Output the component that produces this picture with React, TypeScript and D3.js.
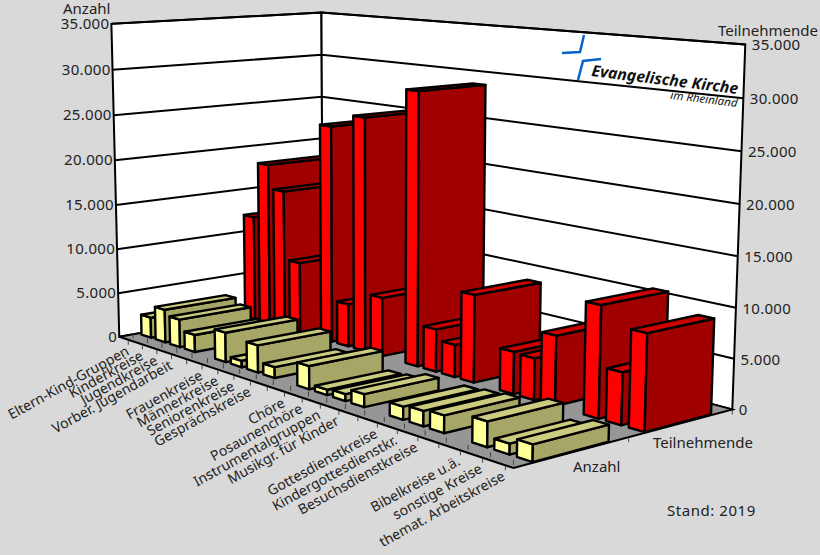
import React from "react";
import * as d3 from "d3";

const slots: (string | null)[] = [
  "Eltern-Kind-Gruppen", "Kinderkreise", "Jugendkreise", "Vorber. Jugendarbeit", null,
  "Frauenkreise", "Männerkreise", "Seniorenkreise", "Gesprächskreise", null,
  "Chöre", "Posaunenchöre", "Instrumentalgruppen", "Musikgr. für Kinder", null,
  "Gottesdienstkreise", "Kindergottesdienstkr.", "Besuchsdienstkreise", null,
  "Bibelkreise u.ä.", "sonstige Kreise", "themat. Arbeitskreise",
];
const anzahl = [2300, 3700, 3100, 1900, 0, 3200, 700, 2900, 1150, 0, 2400, 550, 700, 1300, 0, 1300, 1500, 1700, 0, 2400, 1000, 1600];
const teilnehmende = [12100, 18500, 15800, 8000, 0, 24000, 4700, 25500, 6400, 0, 29000, 4500, 3400, 9100, 0, 4300, 4200, 7000, 0, 11000, 5100, 9350];
const valueTicks = [0, 5000, 10000, 15000, 20000, 25000, 30000, 35000];
const tickLabels = ["0", "5.000", "10.000", "15.000", "20.000", "25.000", "30.000", "35.000"];

// camera fit: box corners (x,y,z) -> screen
const frame: [number, number, number, number, number][] = [
  [0, 0, 0, 120, 335],
  [1, 0, 0, 513, 470],
  [0, 1, 0, 322, 303],
  [1, 1, 0, 733, 407],
  [0, 0, 1, 111, 24],
  [0, 1, 1, 322, 12],
  [1, 1, 1, 745, 45],
];

function fitCamera(pts: typeof frame) {
  const rows: number[][] = [];
  const rhs: number[] = [];
  for (const [x, y, z, u, v] of pts) {
    rows.push([x, y, z, 1, 0, 0, 0, 0, -u * x, -u * y, -u * z]);
    rhs.push(u);
    rows.push([0, 0, 0, 0, x, y, z, 1, -v * x, -v * y, -v * z]);
    rhs.push(v);
  }
  const n = 11;
  const m = d3.range(n).map((i) => [
    ...d3.range(n).map((j) => d3.sum(rows, (r) => r[i] * r[j])),
    d3.sum(rows, (r, k) => r[i] * rhs[k]),
  ]);
  for (let c = 0; c < n; c++) {
    let p = c;
    for (let r = c + 1; r < n; r++) if (Math.abs(m[r][c]) > Math.abs(m[p][c])) p = r;
    [m[c], m[p]] = [m[p], m[c]];
    for (let r = 0; r < n; r++) {
      if (r === c) continue;
      const f = m[r][c] / m[c][c];
      for (let k = c; k <= n; k++) m[r][k] -= f * m[c][k];
    }
  }
  return m.map((r, i) => r[n] / r[i]);
}
const P = fitCamera(frame);
const project = (x: number, y: number, z: number): [number, number] => {
  const w = P[8] * x + P[9] * y + P[10] * z + 1;
  return [(P[0] * x + P[1] * y + P[2] * z + P[3]) / w, (P[4] * x + P[5] * y + P[6] * z + P[7]) / w];
};

const sx = d3.scaleLinear().domain([0, slots.length]).range([0, 1]);
const sz = d3.scaleLinear().domain([0, 35000]).range([0, 1]);
const line = d3.line<[number, number, number]>().x((p) => project(...p)[0]).y((p) => project(...p)[1]);
const closed = (pts: [number, number, number][]) => line(pts) + "Z";

const BAR_L = 0.26;
const BAR_R = 0.94;
const rows = [
  { values: teilnehmende, y0: 0.58, y1: 0.9, front: "#ff0000", side: "#a00000", top: "#cc0000" },
  { values: anzahl, y0: 0.085, y1: 0.415, front: "#ffff99", side: "#a6a666", top: "#cccc80" },
];
const FONT = "'Noto Sans', sans-serif";
const TXT = "#222";
const TICK = "#444";

export default function App() {
  return (
    <svg width={820} height={555} style={{ position: "fixed", left: 0, top: 0 }} fontFamily={FONT} fill={TXT}>
      <rect width={820} height={555} fill="#d9d9d9" />
      <path d={closed([[0, 0, 0], [0, 1, 0], [0, 1, 1], [0, 0, 1]])} fill="#fff" stroke="#000" strokeWidth={2} />
      <path d={closed([[0, 1, 0], [1, 1, 0], [1, 1, 1], [0, 1, 1]])} fill="#fff" stroke="#000" strokeWidth={2} />
      <path d={closed([[0, 0, 0], [1, 0, 0], [1, 1, 0], [0, 1, 0]])} fill="#969696" stroke="#000" strokeWidth={2} />
      {valueTicks.slice(1).map((v) => (
        <path key={v} d={line([[0, 0, sz(v)], [0, 1, sz(v)], [1, 1, sz(v)]])!} fill="none" stroke="#000" strokeWidth={2} />
      ))}

      <polyline points="584,35 580,52 562,53" fill="none" stroke="#0a64c8" strokeWidth={2.5} />
      <polyline points="601,59 583,61 578,80" fill="none" stroke="#0a64c8" strokeWidth={2.5} />
      <text transform="translate(591,76) rotate(7)" fontSize={15.8} fontWeight={700} fontStyle="italic" fill="#111">Evangelische Kirche</text>
      <text transform="translate(737,107) rotate(7)" textAnchor="end" fontSize={11.5} fontStyle="italic" fill="#111">im Rheinland</text>

      {slots.map((_, i) => {
        const a = project(sx(i + 1), 0, 0);
        const o = project(sx(i + 0.65), 0, 0);
        return (
          <g key={i} stroke={TICK} strokeWidth={1}>
            <line x1={a[0]} y1={a[1] - 8} x2={a[0]} y2={a[1] - 3} />
            <line x1={o[0]} y1={o[1] + 1} x2={o[0]} y2={o[1] + 5} />
          </g>
        );
      })}
      {[0.5, 1].map((y) => {
        const a = project(1, y, 0);
        return <line key={y} x1={a[0]} y1={a[1] + 1} x2={a[0]} y2={a[1] + 5} stroke={TICK} strokeWidth={1} />;
      })}

      {rows.map((row, r) =>
        row.values.map((v, i) => {
          if (!slots[i]) return null;
          const x0 = sx(i + BAR_L), x1 = sx(i + BAR_R), z = sz(v);
          const { y0, y1 } = row;
          return (
            <g key={`${r}-${i}`} stroke="#000" strokeWidth={2.4} strokeLinejoin="round">
              <path d={closed([[x0, y0, 0], [x1, y0, 0], [x1, y0, z], [x0, y0, z]])} fill={row.front} />
              <path d={closed([[x1, y0, 0], [x1, y1, 0], [x1, y1, z], [x1, y0, z]])} fill={row.side} />
              <path d={closed([[x0, y0, z], [x1, y0, z], [x1, y1, z], [x0, y1, z]])} fill={row.top} />
            </g>
          );
        })
      )}

      {valueTicks.map((v, i) => {
        const l = project(0, 0, sz(v));
        const rr = project(1, 1, sz(v));
        return (
          <g key={v} fontSize={15} letterSpacing={0.3}>
            <text x={l[0] - 2} y={l[1] + 5} textAnchor="end">{tickLabels[i]}</text>
            <text x={rr[0] + 6.5} y={rr[1] + 6}>{tickLabels[i]}</text>
          </g>
        );
      })}
      <text x={63} y={14} fontSize={15}>Anzahl</text>
      <text x={718} y={36} fontSize={15}>Teilnehmende</text>
      <text x={653} y={448} fontSize={15}>Teilnehmende</text>
      <text x={573} y={472} fontSize={15}>Anzahl</text>
      <text x={667} y={516} fontSize={15} letterSpacing={0.55}>Stand: 2019</text>

      {slots.map((s, i) => {
        if (!s) return null;
        const [px, py] = project(sx(i + 0.5), 0, 0);
        return (
          <text key={s} transform={`translate(${px + 4},${py + 15}) rotate(-29)`} textAnchor="end" fontSize={14}>{s}</text>
        );
      })}
    </svg>
  );
}
